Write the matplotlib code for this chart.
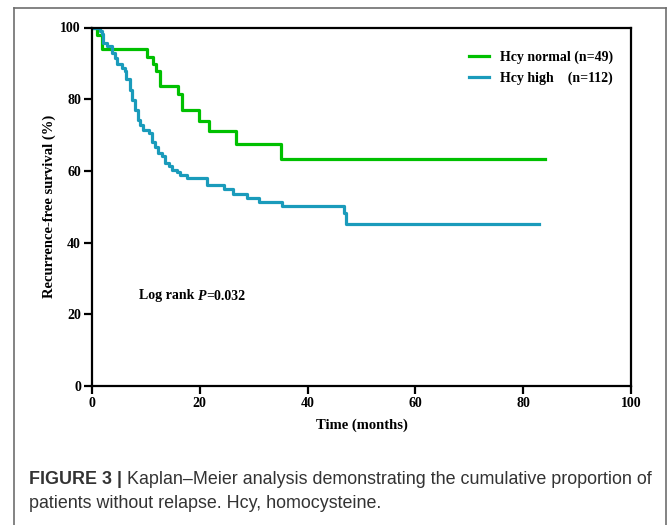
import matplotlib
matplotlib.use("Agg")
import matplotlib.pyplot as plt
from matplotlib.lines import Line2D

# Kaplan-Meier step data (months, % relapse-free)
normal_time = [0, 1.0, 1.9, 10.2, 11.3, 11.9, 12.6, 15.9, 16.7, 19.9, 21.7, 26.7, 35.0, 84.0]
normal_surv = [100, 98.0, 93.9, 91.8, 89.8, 87.8, 83.7, 81.4, 77.0, 74.0, 71.2, 67.4, 63.2, 63.2]

high_time = [0, 1.5, 1.9, 2.1, 2.7, 3.7, 4.3, 4.6, 5.5, 6.1, 6.4, 7.1, 7.4, 8.0, 8.6, 8.9,
             9.5, 10.5, 11.1, 11.7, 12.3, 12.9, 13.6, 14.2, 14.8, 15.7, 16.4, 17.6, 21.3,
             24.4, 26.1, 28.7, 30.9, 35.3, 46.7, 47.1, 82.9]
high_surv = [100, 99.1, 98.2, 95.7, 94.8, 92.9, 91.5, 89.7, 88.7, 87.8, 85.5, 82.7, 79.9,
             77.1, 74.3, 72.9, 71.5, 70.5, 68.2, 66.8, 65.0, 64.1, 62.2, 61.3, 60.3, 59.6,
             58.9, 58.0, 56.1, 54.9, 53.6, 52.4, 51.2, 50.1, 48.2, 45.2, 45.2]

x_ticks = [0, 20, 40, 60, 80, 100]
y_ticks = [0, 20, 40, 60, 80, 100]
labels = ["Hcy normal (n=49)", "Hcy high    (n=112)"]

GREEN = "#00c000"
BLUE = "#1a9bbb"
SERIF = "Liberation Serif"
SANS = "Liberation Sans"

W, H = 669, 525


def fx(px):
    return px / W


def fy(py):
    return 1 - py / H


def put_segments(fig, x, y, segments, **kw):
    # lay out text pieces one after another (mixed weight / style)
    renderer = fig.canvas.get_renderer()
    for text, props in segments:
        t = fig.text(x, y, text, **kw, **props)
        bb = t.get_window_extent(renderer)
        x += bb.width / fig.bbox.width


fig = plt.figure(figsize=(W / 100, H / 100), dpi=100)
ax = fig.add_axes([fx(92), fy(386), fx(631) - fx(92), fy(27.5) - fy(386)])

ax.step(normal_time, normal_surv, where="post", color=GREEN, lw=2.3, label=labels[0])
ax.step(high_time, high_surv, where="post", color=BLUE, lw=2.3, label=labels[1])

ax.set_xlim(0, 100)
ax.set_ylim(0, 100)
ax.set_xticks(x_ticks)
ax.set_yticks(y_ticks)
for sp in ax.spines.values():
    sp.set_linewidth(1.6)
ax.tick_params(direction="out", length=6, width=1.6, pad=2)
for lab in ax.get_xticklabels() + ax.get_yticklabels():
    lab.set_fontfamily(SERIF)
    lab.set_fontweight("bold")
    lab.set_fontsize(10)

ax.set_xlabel("Time (months)", fontfamily=SERIF, fontweight="bold", fontsize=10.5, labelpad=6)
ax.set_ylabel("Recurrence-free survival (%)", fontfamily=SERIF, fontweight="bold",
              fontsize=10.5, labelpad=3)

leg = ax.legend(loc="upper right", bbox_to_anchor=(0.99, 0.97), frameon=False,
                handlelength=1.45, handletextpad=0.8, labelspacing=0.55,
                prop={"family": SERIF, "weight": "bold", "size": 10})

fig.canvas.draw()

put_segments(fig, fx(139), fy(296), [
    ("Log rank ", {"fontweight": "bold"}),
    ("P", {"fontweight": "bold", "fontstyle": "italic"}),
    ("=0.032", {"fontweight": "bold"}),
], fontfamily=SERIF, fontsize=10, va="center")

put_segments(fig, fx(29), fy(480), [
    ("FIGURE 3 | ", {"fontweight": "bold"}),
    ("Kaplan\u2013Meier analysis demonstrating the cumulative proportion of", {}),
], fontfamily=SANS, fontsize=12.9, color="#333333", va="center")
fig.text(fx(29), fy(503), "patients without relapse. Hcy, homocysteine.",
         fontfamily=SANS, fontsize=12.9, color="#333333", va="center")

# outer figure frame (open at the bottom)
frame = dict(color="#6e6e6e", lw=1.2, transform=fig.transFigure)
fig.add_artist(Line2D([fx(14), fx(14)], [fy(8), 0], **frame))
fig.add_artist(Line2D([fx(14), fx(666)], [fy(8), fy(8)], **frame))
fig.add_artist(Line2D([fx(666), fx(666)], [fy(8), 0], **frame))

fig.savefig("out.png", dpi=100)
